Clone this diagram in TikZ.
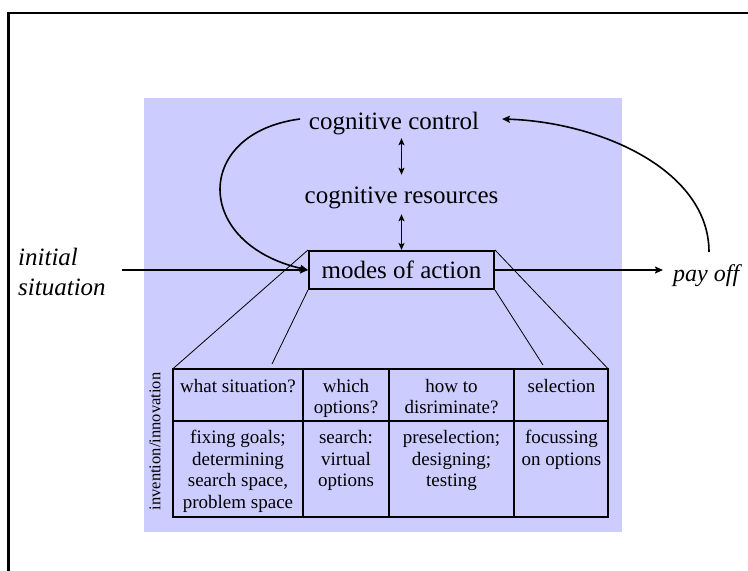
\documentclass[tikz,border=0pt]{standalone}
\usepackage{fontspec}
\setmainfont{Liberation Serif}
\usetikzlibrary{arrows.meta}
\definecolor{bgblue}{RGB}{204,204,255}
\begin{document}
\begin{tikzpicture}[x=1pt,y=-1pt,
  big/.style={font=\fontsize{25}{28}\selectfont, inner sep=0pt},
  cell/.style={font=\fontsize{19}{21.5}\selectfont, align=center, anchor=base, inner sep=0pt},
  arr/.style={line width=1.6pt, -{Stealth[length=8pt,width=7pt,inset=1.5pt]}},
  dbl/.style={line width=1.6pt, {Stealth[length=7pt,width=6pt,inset=1.5pt]}-{Stealth[length=7pt,width=6pt,inset=1.5pt]}},
  thinline/.style={line width=0.8pt}]
\useasboundingbox (0,0) rectangle (748,571);
\fill[bgblue] (144,98) rectangle (622,532);
\draw[line width=2.6pt] (8.7,571) -- (8.7,13) -- (748,13);

% main nodes
\node[big, anchor=base, text depth=8.7pt] (cc) at (394,129.3) {cognitive control};
\node[big, anchor=base, text height=28pt, text depth=11pt] (cr) at (401.5,203) {cognitive resources};
\node[big, draw, line width=2pt, minimum width=185pt, minimum height=38pt] (moa) at (401.5,270) {modes of action};
\node[font=\fontsize{25}{30}\selectfont\itshape, inner sep=0pt, align=left, anchor=base west] (init) at (18,295) {initial\\situation};
\node[font=\fontsize{24}{28}\selectfont\itshape, inner sep=0pt, anchor=base west] (payoff) at (673,281) {pay off};

% table
\node[draw, line width=2.2pt, outer sep=0pt, inner sep=0pt, minimum width=434.8pt, minimum height=148.3pt, anchor=north west] (tbl) at (173.1,368.6) {};
\draw[line width=1.2pt] (303,368.6) -- (303,516.9)
  (389,368.6) -- (389,516.9)
  (514,368.6) -- (514,516.9)
  (173.1,421) -- (607.9,421);
\node[rotate=90, font=\fontsize{16.5}{18}\selectfont, inner sep=0pt] (inv) at (155,441.5) {invention/innovation};

% cells (base anchor = baseline of last line)
\node[cell] (a1) at (238,392) {what situation?};
\node[cell] (a2) at (346,413.5) {which\\options?};
\node[cell] (a3) at (451.5,413.5) {how to\\disriminate?};
\node[cell] (a4) at (561.5,392) {selection};
\node[cell] (b1) at (238,508) {fixing goals;\\determining\\search space,\\problem space};
\node[cell] (b2) at (346,486.5) {search:\\virtual\\options};
\node[cell] (b3) at (451.5,486.5) {preselection;\\designing;\\testing};
\node[cell] (b4) at (561.5,465) {focussing\\on options};

% free ends
\coordinate (ccL) at (300,119);
\coordinate (ccR) at (502,119);
\coordinate (pstart) at (709,252);
\coordinate (istart) at (122,270);
\coordinate (pend) at (663,270);
\coordinate (t2) at (272,364);
\coordinate (t3) at (543,365);

% connectors
\draw[arr] (istart) -- (moa.west);
\draw[arr] (moa.east) -- (pend);
\draw[arr] (ccL) .. controls (193,133) and (193,244) .. (moa.west);
\draw[arr] (pstart) .. controls (709,170) and (600,122) .. (ccR);
\draw[dbl] (moa.north |- cc.south) -- (moa.north |- cr.north);
\draw[dbl] (moa.north |- cr.south) -- (moa.north);

\draw[thinline] (moa.north west) -- (tbl.north west);
\draw[thinline] (moa.south west) -- (t2);
\draw[thinline] (moa.north east) -- (tbl.north east);
\draw[thinline] (moa.south east) -- (t3);
\end{tikzpicture}
\end{document}
